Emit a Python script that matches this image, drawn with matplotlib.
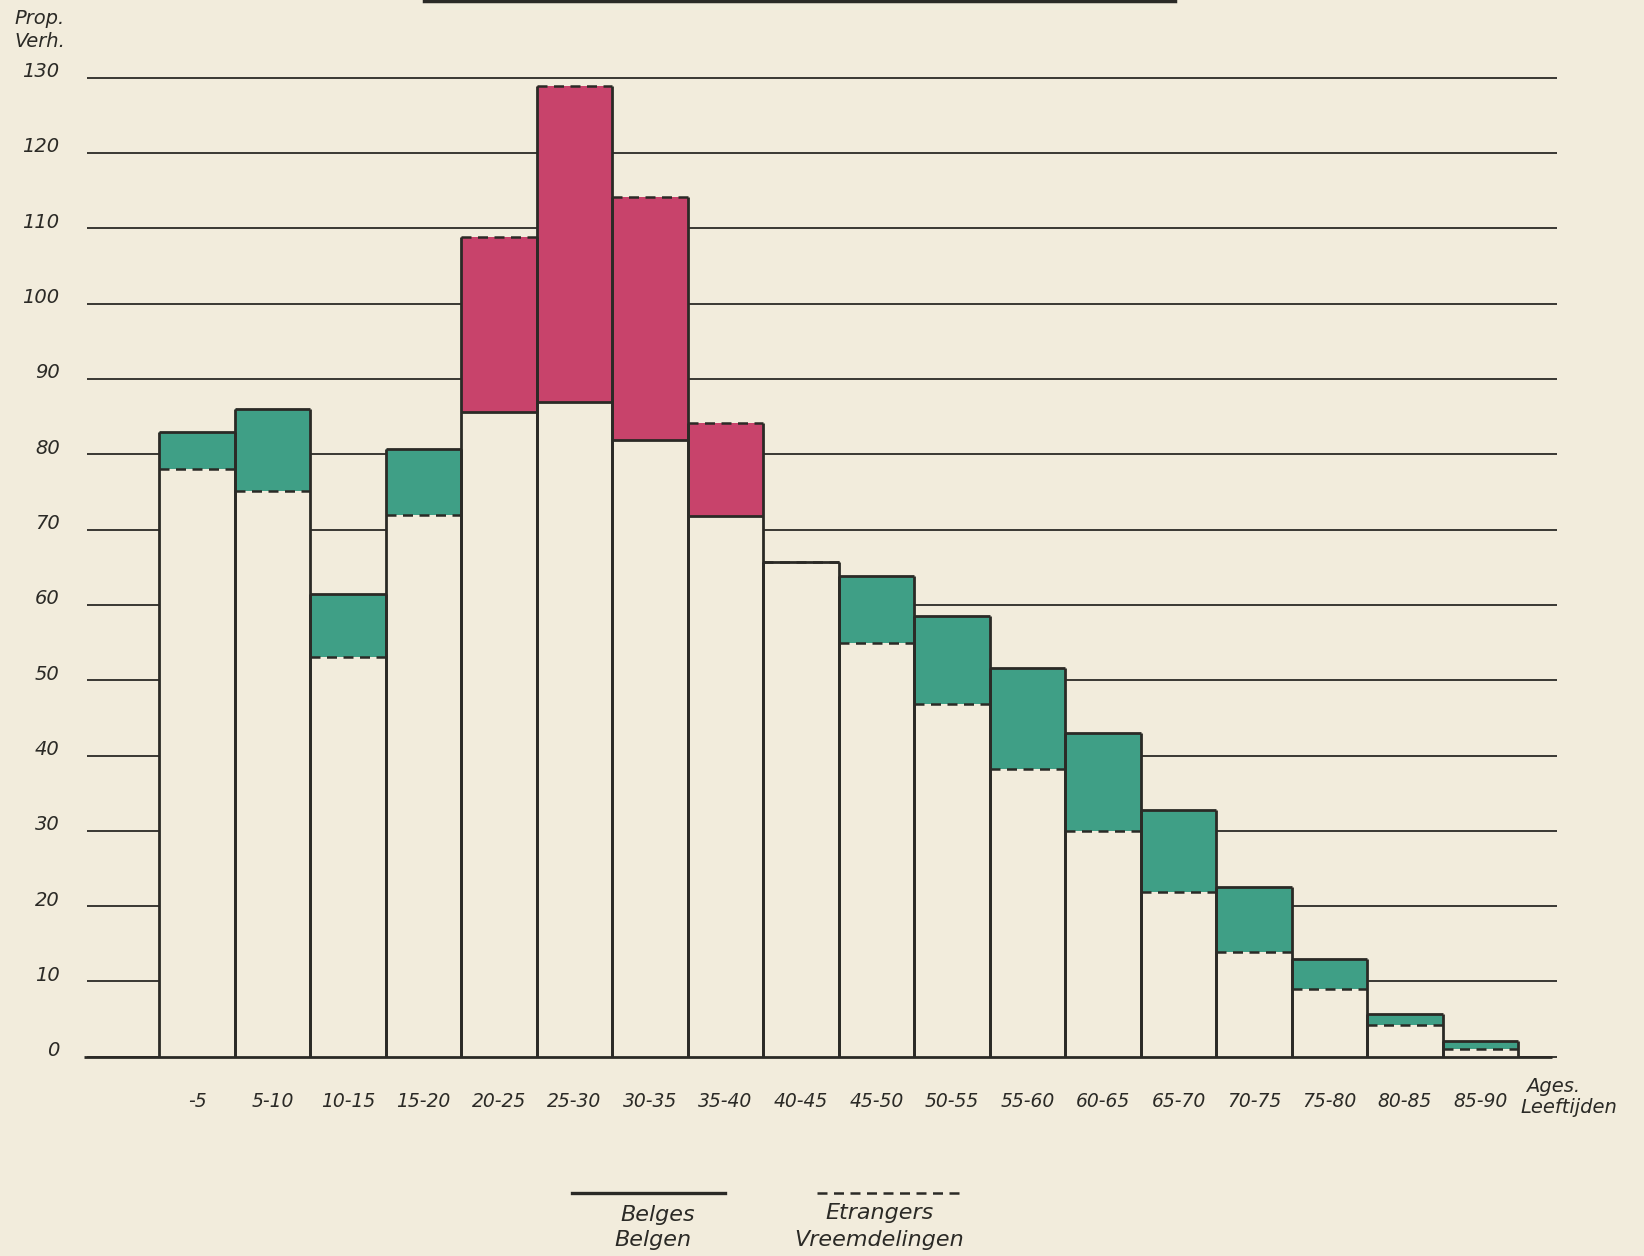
import matplotlib.pyplot as plt
from matplotlib.lines import Line2D

# age groups and proportions
ages = ['-5', '5-10', '10-15', '15-20', '20-25', '25-30', '30-35', '35-40', '40-45',
        '45-50', '50-55', '55-60', '60-65', '65-70', '70-75', '75-80', '80-85', '85-90']
belges = [83.0, 86.0, 61.5, 80.7, 85.6, 87.0, 81.9, 71.8, 65.7,
          63.8, 58.5, 51.6, 43.0, 32.8, 22.6, 13.0, 5.7, 2.1]
etrangers = [78.1, 75.1, 53.1, 71.9, 108.9, 128.9, 114.2, 84.2, 65.7,
             55.0, 46.8, 38.2, 30.0, 21.9, 13.9, 9.0, 4.2, 1.1]
yticks = [0, 10, 20, 30, 40, 50, 60, 70, 80, 90, 100, 110, 120, 130]

bg = '#f2ecdc'
green = '#3f9f86'
red = '#c8436b'
ink = '#2b2a26'
dash = (0, (4, 2.6))

plt.rcParams['font.family'] = 'DejaVu Sans'
plt.rcParams['font.style'] = 'italic'

fig = plt.figure(figsize=(16.44, 12.56), dpi=100, facecolor=bg)
ax = fig.add_axes([0.0529, 0.1586, 0.894, 0.7796])
ax.set_facecolor(bg)
ax.set_xlim(-0.958, 18.51)
ax.set_ylim(0, 130)
ax.axis('off')

# horizontal rules behind the bars
ax.hlines(yticks, -0.958, 18.51, color=ink, lw=1.3, zorder=0, clip_on=False)
for v in yticks:
    ax.text(-1.32, v + 0.8, str(v), ha='right', va='center', fontsize=14, color=ink)

x = list(range(len(ages)))
lo = [min(b, e) for b, e in zip(belges, etrangers)]
diff = [abs(b - e) for b, e in zip(belges, etrangers)]
cols = [green if b >= e else red for b, e in zip(belges, etrangers)]

ax.bar(x, lo, width=1.0, align='edge', color=bg, lw=0, zorder=2)
ax.bar(x, diff, bottom=lo, width=1.0, align='edge', color=cols, lw=0, zorder=2)

hi = [max(b, e) for b, e in zip(belges, etrangers)]
ax.vlines(x, 0, hi, color=ink, lw=2.0, zorder=3)
ax.vlines([i + 1 for i in x], 0, hi, color=ink, lw=2.0, zorder=3)
ax.hlines(etrangers, x, [i + 1 for i in x], color=ink, lw=1.8,
          linestyles=dash, zorder=3)
ax.hlines(belges, x, [i + 1 for i in x], color=ink, lw=2.0, zorder=4)
ax.hlines(0, -1.0, 18.45, color=ink, lw=2.0, zorder=4, clip_on=False)

for i, lab in enumerate(ages):
    ax.text(i + 0.5, -5.9, lab, ha='center', va='center', fontsize=13.5, color=ink)

ax.text(18.1, -3.9, 'Ages.', ha='left', va='center', fontsize=14, color=ink)
ax.text(18.03, -6.7, 'Leeftijden', ha='left', va='center', fontsize=14, color=ink)

fig.text(0.024, 0.985, 'Prop.', ha='center', va='center', fontsize=14, color=ink)
fig.text(0.024, 0.967, 'Verh.', ha='center', va='center', fontsize=14, color=ink)

# legend at the bottom
fig.add_artist(Line2D([0.348, 0.441], [0.050, 0.050], color=ink, lw=2.4))
fig.add_artist(Line2D([0.497, 0.587], [0.050, 0.050], color=ink, lw=1.8,
                      linestyle=dash))
fig.text(0.400, 0.033, 'Belges', ha='center', va='center', fontsize=16, color=ink)
fig.text(0.397, 0.013, 'Belgen', ha='center', va='center', fontsize=16, color=ink)
fig.text(0.535, 0.034, 'Etrangers', ha='center', va='center', fontsize=16, color=ink)
fig.text(0.535, 0.013, 'Vreemdelingen', ha='center', va='center', fontsize=16, color=ink)

# remains of the title underline at the top edge
fig.add_artist(Line2D([0.258, 0.715], [0.9995, 0.9995], color=ink, lw=2.5))

fig.savefig('out.png', dpi=100, facecolor=bg)
